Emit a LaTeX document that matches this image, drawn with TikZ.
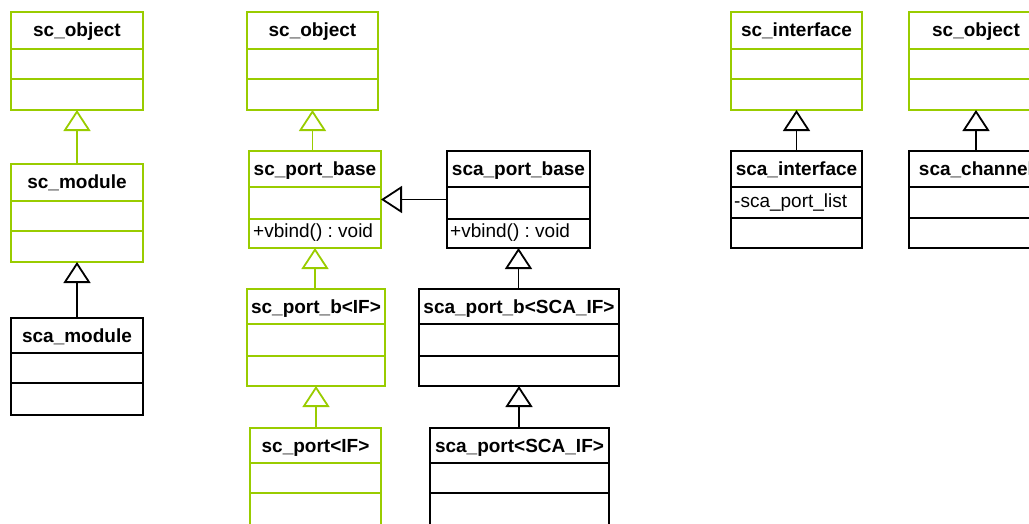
\documentclass[tikz,border=0pt]{standalone}
\usepackage{fontspec}
\setmainfont{Liberation Sans}
\usetikzlibrary{arrows.meta}
\frenchspacing

\definecolor{scgreen}{RGB}{153,204,0}

\tikzset{
  edge/.style={line width=1.8pt},
  classframe/.style={edge, rectangle, fill=white, inner sep=0pt, outer sep=0pt},
  classtitle/.style={inner sep=0pt, font=\bfseries\fontsize{19}{22}\selectfont},
  member/.style={inner sep=0pt, anchor=base west, font=\fontsize{19}{22}\selectfont},
  inh/.style={edge, -{Triangle[open, length=21pt, width=27pt]}},
}

% #1 name, #2 colour, #3 left, #4 top, #5 right, #6/#7 compartment dividers, #8 bottom, #9 class name
\newcommand\umlclass[9]{%
  \node[classframe, draw=#2, minimum width={#5-#3}, minimum height={#8-#4},
        anchor=north west] (#1) at (#3,#4) {};
  \draw[edge, #2] (#3,#6) -- (#5,#6) (#3,#7) -- (#5,#7);
  \node[classtitle, anchor=base] (#1-name) at ({(#3+#5)/2},{#4+24}) {#9};
}

\begin{document}
\begin{tikzpicture}[x=1pt, y=-1pt]
  \useasboundingbox (0,0) rectangle (1029,523);
  \clip (0,0) rectangle (1029,523);

  % SystemC module hierarchy
  \umlclass{objA}{scgreen}{11}{12}{143}{49}{79}{110}{sc\_object}
  \umlclass{module}{scgreen}{11}{164}{143}{201}{231}{262}{sc\_module}
  \umlclass{scamodule}{black}{11}{318}{143}{353}{383}{415}{sca\_module}

  % port hierarchy
  \umlclass{objB}{scgreen}{247}{12}{378}{49}{79}{110}{sc\_object}
  \umlclass{portbase}{scgreen}{249}{151}{381}{187}{219}{248}{sc\_port\_base}
  \umlclass{scaportbase}{black}{447}{151}{590}{187}{219}{248}{sca\_port\_base}
  \umlclass{portb}{scgreen}{247}{289}{385}{324}{356}{386}{sc\_port\_b<IF>}
  \umlclass{scaportb}{black}{419}{289}{619}{324}{356}{386}{sca\_port\_b<SCA\_IF>}
  \umlclass{port}{scgreen}{250}{428}{381}{463}{493}{540}{sc\_port<IF>}
  \umlclass{scaport}{black}{430}{428}{609}{463}{493}{540}{sca\_port<SCA\_IF>}

  \node[member] (portbase-op) at (253,237) {+vbind() : void};
  \node[member] (scaportbase-op) at (450,237) {+vbind() : void};

  % interface and channel
  \umlclass{iface}{scgreen}{731}{12}{862}{49}{79}{110}{sc\_interface}
  \umlclass{scaiface}{black}{731}{151}{862}{187}{218}{248}{sca\_interface}
  \umlclass{objC}{scgreen}{909}{12}{1043}{49}{79}{110}{sc\_object}
  \umlclass{channel}{black}{909}{151}{1043}{187}{218}{248}{sca\_channel}

  \node[member] (scaiface-attr) at (734,207) {-sca\_port\_list};

  % generalisations
  \draw[inh, scgreen] (objA.south |- module.north) -- (objA.south);
  \draw[inh, black]   (module.south |- scamodule.north) -- (module.south);
  \draw[inh, scgreen] (objB.south |- portbase.north) -- (objB.south);
  \draw[inh, scgreen] (portbase.south |- portb.north) -- (portbase.south);
  \draw[inh, scgreen] (portb.south |- port.north) -- (portb.south);
  \draw[inh, black]   (scaportbase.west) -- (portbase.east);
  \draw[inh, black]   (scaportbase.south |- scaportb.north) -- (scaportbase.south);
  \draw[inh, black]   (scaportb.south |- scaport.north) -- (scaportb.south);
  \draw[inh, black]   (iface.south |- scaiface.north) -- (iface.south);
  \draw[inh, black]   (objC.south |- channel.north) -- (objC.south);
\end{tikzpicture}
\end{document}
